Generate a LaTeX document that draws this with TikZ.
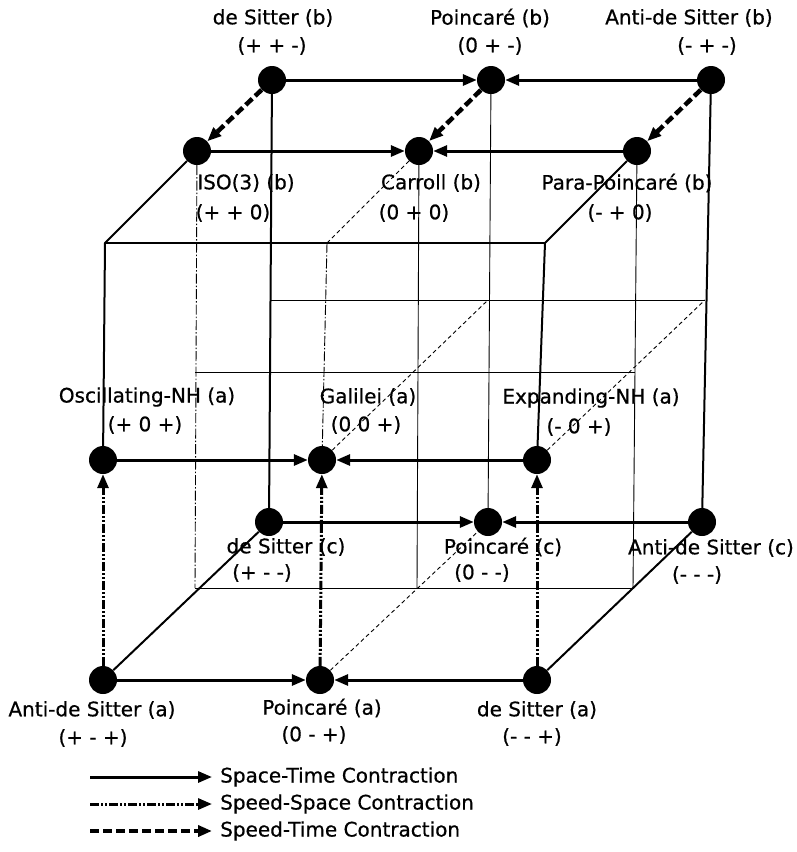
\documentclass[tikz,border=0pt]{standalone}
\usepackage{fontspec}
\setmainfont{DejaVu Sans}
\newfontfamily\labfont{DejaVu Sans}[FakeBold=0.6]
\usetikzlibrary{arrows.meta}
\begin{document}
\begin{tikzpicture}[x=1pt,y=-1pt,
  dot/.style={circle,fill=black,inner sep=0pt,minimum size=28pt},
  lab/.style={font=\labfont\fontsize{20}{23}\selectfont,inner sep=0pt,anchor=center},
  tip/.style={-{Triangle[length=14pt,width=11pt]}},
  st/.style={line width=3pt,tip},
  ss/.style={line width=3pt,dash pattern=on 9pt off 2pt on 2pt off 2pt on 2pt off 2pt,tip},
  sti/.style={line width=4.5pt,dash pattern=on 9pt off 4pt,tip},
  edgeline/.style={line width=2pt},
  thinline/.style={line width=0.9pt},
  thindash/.style={line width=0.9pt,dash pattern=on 4pt off 3pt},
  thindd/.style={line width=0.9pt,dash pattern=on 10pt off 2pt on 1.5pt off 2pt}]
\useasboundingbox[fill=white] (0,0) rectangle (797,852);

% nodes
\node[dot] (dSb) at (272,80) {};
\node[dot] (Pb) at (491,80) {};
\node[dot] (AdSb) at (711,80) {};
\node[dot] (ISOb) at (197,151) {};
\node[dot] (Cb) at (419,151) {};
\node[dot] (PPb) at (637,151) {};
\node[dot] (OscA) at (103,460) {};
\node[dot] (GalA) at (322,460) {};
\node[dot] (ExpA) at (537,460) {};
\node[dot] (dSc) at (269,522) {};
\node[dot] (Pc) at (488,522) {};
\node[dot] (AdSc) at (702,522) {};
\node[dot] (AdSa) at (103,680) {};
\node[dot] (Pa) at (320,680) {};
\node[dot] (dSa) at (537,680) {};

% coordinates
\coordinate (fl) at (105,243);
\coordinate (fr) at (545,243);
\coordinate (fm) at (327,243);
\coordinate (h1l) at (270,300);
\coordinate (h1r) at (705,300);
\coordinate (gd) at (488,300);
\coordinate (h2l) at (195,372);
\coordinate (h2r) at (635,372);
\coordinate (bl) at (195,588);
\coordinate (bm) at (417,588);
\coordinate (br) at (633,588);

% thin lines
\draw[thinline] (h1l) -- (h1r);
\draw[thinline] (h2l) -- (h2r);
\draw[thinline] (bl) -- (br);
\draw[thindd] (ISOb) -- (bl);
\draw[thindash] (Cb) -- (fm);
\draw[thindd] (fm) -- (GalA);
\draw[thinline] (Cb) -- (bm);
\draw[thinline] (PPb) -- (br);
\draw[thinline] (Pb) -- (Pc);
\draw[thindash] (Pa) -- (Pc);
\draw[thindash] (GalA) -- (gd);
\draw[thindash] (ExpA) -- (h1r);

% cube edges
\draw[edgeline] (ISOb) -- (fl) -- (OscA);
\draw[edgeline] (fl) -- (fr);
\draw[edgeline] (PPb) -- (fr) -- (ExpA);
\draw[edgeline] (dSb) -- (dSc);
\draw[edgeline] (AdSb) -- (AdSc);
\draw[edgeline] (AdSa) -- (dSc);
\draw[edgeline] (dSa) -- (AdSc);

% space-time contractions
\draw[st] (dSb) -- (Pb);
\draw[st] (AdSb) -- (Pb);
\draw[st] (ISOb) -- (Cb);
\draw[st] (PPb) -- (Cb);
\draw[st] (OscA) -- (GalA);
\draw[st] (ExpA) -- (GalA);
\draw[st] (dSc) -- (Pc);
\draw[st] (AdSc) -- (Pc);
\draw[st] (AdSa) -- (Pa);
\draw[st] (dSa) -- (Pa);

% speed-time contractions
\draw[sti] (dSb) -- (ISOb);
\draw[sti] (Pb) -- (Cb);
\draw[sti] (AdSb) -- (PPb);

% speed-space contractions
\draw[ss] (AdSa) -- (OscA);
\draw[ss] (Pa) -- (GalA);
\draw[ss] (dSa) -- (ExpA);

% labels
\node[lab] (l1a) at (273,18) {de Sitter (b)};
\node[lab] (l1b) at (272,46) {(+ + -)};
\node[lab] (l2a) at (490,18) {Poincaré (b)};
\node[lab] (l2b) at (490,46) {(0 + -)};
\node[lab] (l3a) at (689,18) {Anti-de Sitter (b)};
\node[lab] (l3b) at (707,46) {(- + -)};
\node[lab] (l4a) at (246,183) {ISO(3) (b)};
\node[lab] (l4b) at (233,213) {(+ + 0)};
\node[lab] (l5a) at (431,183) {Carroll (b)};
\node[lab] (l5b) at (414,213) {(0 + 0)};
\node[lab] (l6a) at (627,183) {Para-Poincaré (b)};
\node[lab] (l6b) at (620,213) {(- + 0)};
\node[lab] (l7a) at (147,397) {Oscillating-NH (a)};
\node[lab] (l7b) at (145,425) {(+ 0 +)};
\node[lab] (l8a) at (368,397) {Galilei (a)};
\node[lab] (l8b) at (366,425) {(0 0 +)};
\node[lab] (l9a) at (591,398) {Expanding-NH (a)};
\node[lab] (l9b) at (579,427) {(- 0 +)};
\node[lab] (l10a) at (286,547) {de Sitter (c)};
\node[lab] (l10b) at (262,573) {(+ - -)};
\node[lab] (l11a) at (503,547) {Poincaré (c)};
\node[lab] (l11b) at (482,573) {(0 - -)};
\node[lab] (l12a) at (711,548) {Anti-de Sitter (c)};
\node[lab] (l12b) at (697,575) {(- - -)};
\node[lab] (l13a) at (92,710) {Anti-de Sitter (a)};
\node[lab] (l13b) at (93,738) {(+ - +)};
\node[lab] (l14a) at (322,708) {Poincaré (a)};
\node[lab] (l14b) at (314,735) {(0 - +)};
\node[lab] (l15a) at (537,710) {de Sitter (a)};
\node[lab] (l15b) at (532,737) {(- - +)};

% legend
\coordinate (g1a) at (90,777); \coordinate (g1b) at (212,777);
\coordinate (g2a) at (90,804); \coordinate (g2b) at (212,804);
\coordinate (g3a) at (90,831); \coordinate (g3b) at (212,831);
\draw[st] (g1a) -- (g1b);
\draw[ss] (g2a) -- (g2b);
\draw[sti] (g3a) -- (g3b);
\node[lab,anchor=west] (t1) at (220,777) {Space-Time Contraction};
\node[lab,anchor=west] (t2) at (220,804) {Speed-Space Contraction};
\node[lab,anchor=west] (t3) at (220,831) {Speed-Time Contraction};
\end{tikzpicture}
\end{document}
